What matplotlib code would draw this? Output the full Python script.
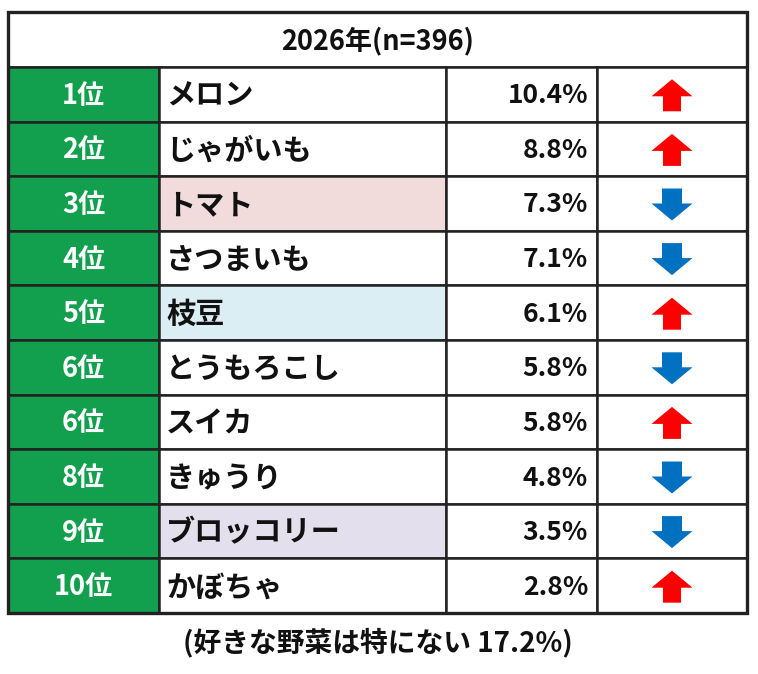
import matplotlib
matplotlib.use("Agg")
import matplotlib.pyplot as plt
from matplotlib.patches import Rectangle, Polygon

plt.rcParams['font.family'] = ['Noto Sans CJK JP', 'DejaVu Sans']

title = "2026年(n=396)"
ranks = ["1位", "2位", "3位", "4位", "5位", "6位", "6位", "8位", "9位", "10位"]
names = ["メロン", "じゃがいも", "トマト", "さつまいも", "枝豆", "とうもろこし",
         "スイカ", "きゅうり", "ブロッコリー", "かぼちゃ"]
values = [10.4, 8.8, 7.3, 7.1, 6.1, 5.8, 5.8, 4.8, 3.5, 2.8]
trend = ["up", "up", "down", "down", "up", "down", "up", "down", "down", "up"]
highlight = {2: "#F2DCDB", 4: "#DAEEF3", 8: "#E4DFEC"}
footer = "(好きな野菜は特にない 17.2%)"

W, H = 758, 674
fig = plt.figure(figsize=(W / 100, H / 100), dpi=100)
ax = fig.add_axes([0, 0, 1, 1])
ax.set_xlim(0, W)
ax.set_ylim(H, 0)
ax.axis("off")

left, right = 8, 747
top, head_bot = 12, 67
row_h = 54.6
cols = [left, 159, 446, 597, right]
green = "#12A04E"
lw = 1.8
tc = "#111111"

# header
ax.add_patch(Rectangle((left, top), right - left, head_bot - top, facecolor="white",
                       edgecolor="#222222", lw=lw, zorder=2))
ax.text((left + right) / 2, (top + head_bot) / 2 + 1, title, ha="center", va="center",
        fontsize=19.5, fontweight="bold", color=tc, zorder=5)

for i in range(len(ranks)):
    y0 = head_bot + i * row_h
    yc = y0 + row_h / 2 + 1.5
    ax.add_patch(Rectangle((cols[0], y0), cols[1] - cols[0], row_h, facecolor=green,
                           edgecolor="#222222", lw=lw, zorder=2))
    ax.text((cols[0] + cols[1]) / 2, yc, ranks[i], ha="center", va="center",
            fontsize=19.5, fontweight="bold", color="white", zorder=5)
    ax.add_patch(Rectangle((cols[1], y0), cols[2] - cols[1], row_h,
                           facecolor=highlight.get(i, "white"),
                           edgecolor="#222222", lw=lw, zorder=2))
    ax.text(cols[1] + 7, yc, names[i], ha="left", va="center",
            fontsize=21, fontweight="bold", color=tc, zorder=5)
    ax.add_patch(Rectangle((cols[2], y0), cols[3] - cols[2], row_h, facecolor="white",
                           edgecolor="#222222", lw=lw, zorder=2))
    ax.text(cols[3] - 9, yc, f"{values[i]:.1f}%", ha="right", va="center",
            fontsize=19, fontweight="bold", color=tc, zorder=5)
    ax.add_patch(Rectangle((cols[3], y0), cols[4] - cols[3], row_h, facecolor="white",
                           edgecolor="#222222", lw=lw, zorder=2))
    xc = (cols[3] + cols[4]) / 2
    ym = y0 + row_h / 2 + 1
    hw, sw, hh, total = 20.5, 9, 17, 32
    t = ym - total / 2
    b = ym + total / 2
    if trend[i] == "up":
        pts = [(xc, t), (xc + hw, t + hh), (xc + sw, t + hh), (xc + sw, b),
               (xc - sw, b), (xc - sw, t + hh), (xc - hw, t + hh)]
        col = "#FF0000"
    else:
        pts = [(xc, b), (xc + hw, b - hh), (xc + sw + 1, b - hh), (xc + sw + 1, t),
               (xc - sw - 1, t), (xc - sw - 1, b - hh), (xc - hw, b - hh)]
        col = "#0070C0"
    ax.add_patch(Polygon(pts, closed=True, facecolor=col, edgecolor="none", zorder=4))

bottom = head_bot + len(ranks) * row_h
ax.add_patch(Rectangle((left, top), right - left, bottom - top, facecolor="none",
                       edgecolor="#222222", lw=2.4, zorder=6))

ax.text((left + right) / 2, 643, footer, ha="center", va="center",
        fontsize=20, fontweight="bold", color=tc)

fig.savefig("out.png", dpi=100, facecolor="white")
